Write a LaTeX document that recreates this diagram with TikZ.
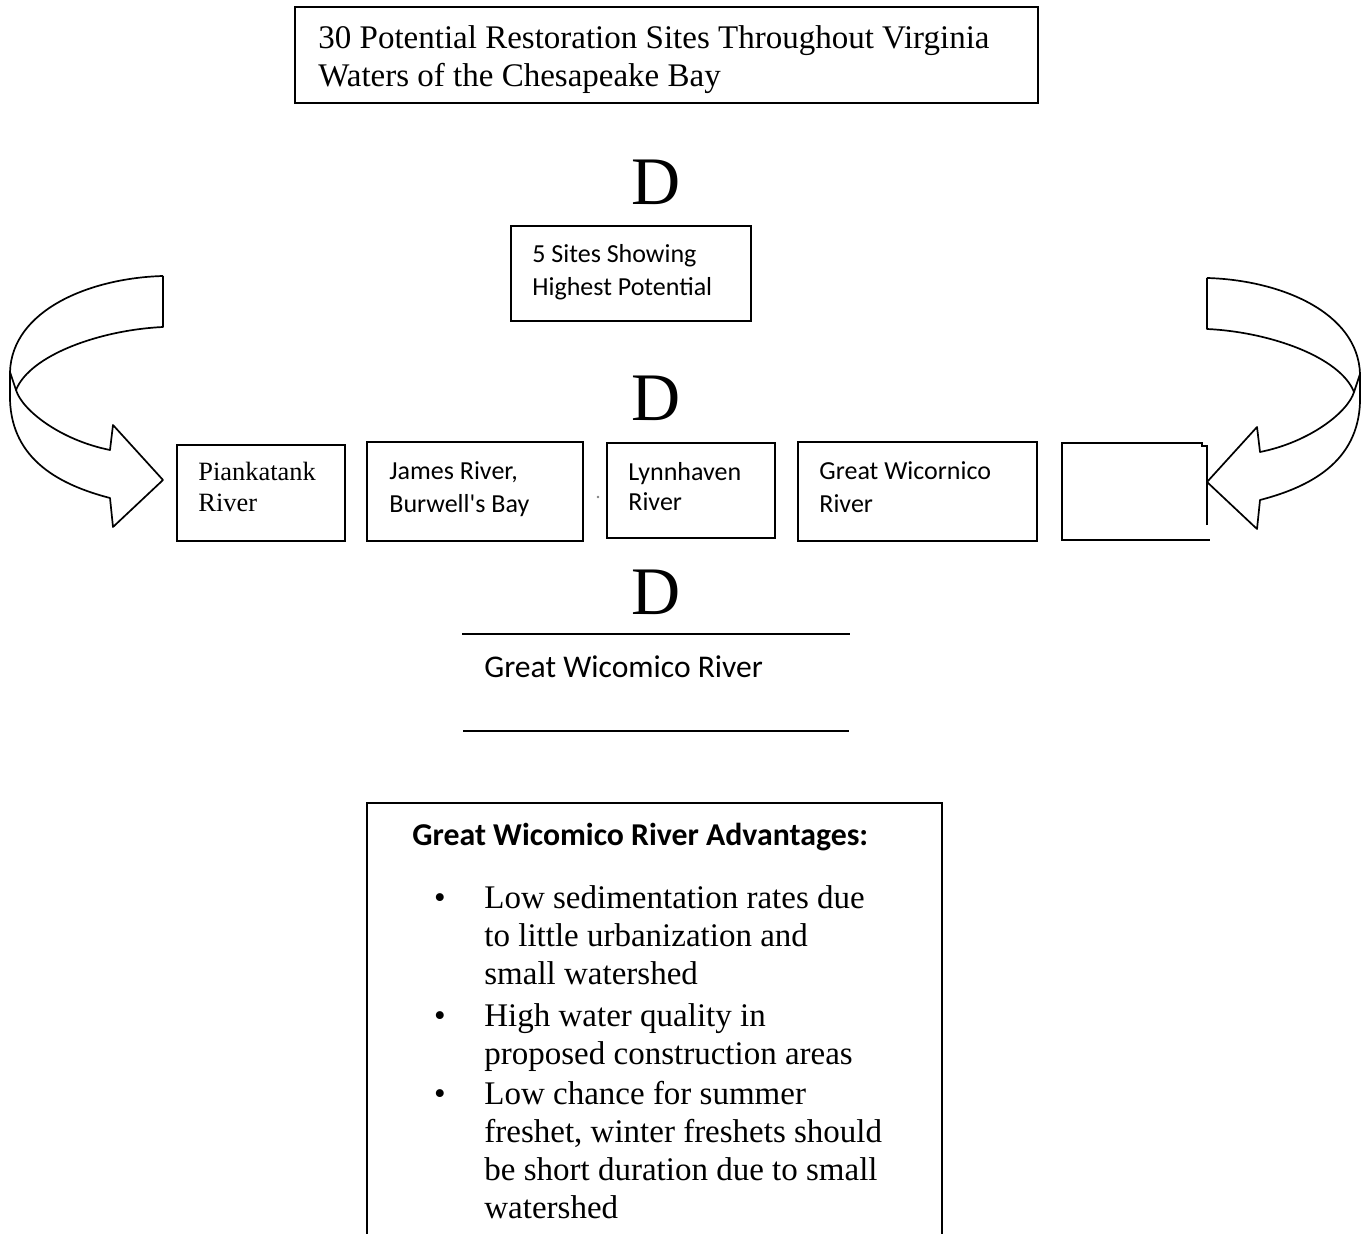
\documentclass[tikz,border=0pt]{standalone}
\usepackage{fontspec}
\setmainfont{Liberation Serif}
\newfontfamily\calibri{Carlito}

\tikzset{
  site/.style={draw, line width=0.9pt, inner sep=0pt},
  sertext/.style={font=\fontsize{16.5}{19}\selectfont, align=left, inner sep=0pt},
  sanstext/.style={font=\calibri\fontsize{13}{16.5}\selectfont, align=left, inner sep=0pt},
  bigD/.style={font=\fontsize{34}{34}\selectfont, inner sep=0pt},
  ribbon/.style={line width=0.85pt, line join=round},
  % ribbon arrow bending round into the row of sites
  bendarrow/.pic={
    \draw[ribbon] (163,276) .. controls (90,278) and (12,310) .. (10,372)
      -- (10,400) .. controls (12,460) and (60,485) .. (110,498)
      -- (113,527) -- (163,480) -- (113,425) -- (110,450)
      .. controls (60,440) and (22,410) .. (16,390);
    \draw[ribbon] (163,276) -- (163,327) .. controls (100,330) and (30,355) .. (16,390) -- (10,372);
  }
}

\begin{document}
\begin{tikzpicture}[x=0.5pt, y=-0.5pt]
  \useasboundingbox (0,0) rectangle (1368,1234);

  % all sites (text nodes sit on the baseline of their last line)
  \node[site, minimum width=371.5pt, minimum height=48pt] (all) at (666.5,55) {};
  \node[sertext, anchor=base west] (alltxt) at (318,87) {30 Potential Restoration Sites Throughout Virginia\\Waters of the Chesapeake Bay};
  \node[bigD] (d1) at (656,182) {D};

  % five best sites
  \node[site, minimum width=120pt, minimum height=47.5pt] (five) at (631,273.5) {};
  \node[sanstext, anchor=base west] (fivetxt) at (532,296) {5 Sites Showing\\Highest Potential};
  \node[bigD] (d2) at (656,398) {D};

  % the row of sites
  \node[site, minimum width=84pt, minimum height=48pt] (pian) at (261,493) {};
  \node[sertext, font=\fontsize{13.2}{15.5}\selectfont, anchor=base west] (piantxt) at (198,511) {Piankatank\\River};
  \node[site, minimum width=108pt, minimum height=49.5pt] (james) at (475,491.5) {};
  \node[sanstext, anchor=base west] (jamestxt) at (389,512) {James River,\\Burwell's Bay};
  \fill[gray] (598,497) circle (0.7pt);
  \node[site, minimum width=84pt, minimum height=47.5pt] (lynn) at (691,490.5) {};
  \node[sanstext, font=\calibri\fontsize{13}{15}\selectfont, anchor=base west] (lynntxt) at (628,510) {Lynnhaven\\River};
  \node[site, minimum width=119.5pt, minimum height=49.5pt] (wic) at (917.5,491.5) {};
  \node[sanstext, anchor=base west] (wictxt) at (819,512) {Great Wicornico\\River};
  \draw[line width=0.9pt] (1207,525) -- (1207,446) -- (1202,446) -- (1202,443) -- (1062,443) -- (1062,540) -- (1210,540);

  \pic at (0,0) {bendarrow};
  \pic[xscale=-1] at (1370,2) {bendarrow};

  % chosen site
  \node[bigD] (d3) at (656,592) {D};
  \draw[line width=0.9pt] (462,634) -- (850,634);
  \node[sanstext, font=\calibri\fontsize{15.8}{18}\selectfont, anchor=base west] (chosen) at (484,677) {Great Wicomico River};
  \draw[line width=0.9pt] (463,731) -- (849,731);

  % advantages
  \draw[line width=0.9pt] (367,1240) -- (367,803) -- (942,803) -- (942,1240);
  \node[sanstext, font=\calibri\bfseries\fontsize{15.9}{18}\selectfont, anchor=base west] (advhead) at (412,845) {Great Wicomico River Advantages:};
  \node[sertext, anchor=base] (b1) at (440,908) {•};
  \node[sertext, anchor=base west] (adv1) at (484,984) {Low sedimentation rates due\\to little urbanization and\\small watershed};
  \node[sertext, anchor=base] (b2) at (440,1026) {•};
  \node[sertext, anchor=base west] (adv2) at (484,1064) {High water quality in\\proposed construction areas};
  \node[sertext, anchor=base] (b3) at (440,1104) {•};
  \node[sertext, anchor=base west] (adv3) at (484,1218) {Low chance for summer\\freshet, winter freshets should\\be short duration due to small\\watershed};
\end{tikzpicture}
\end{document}
